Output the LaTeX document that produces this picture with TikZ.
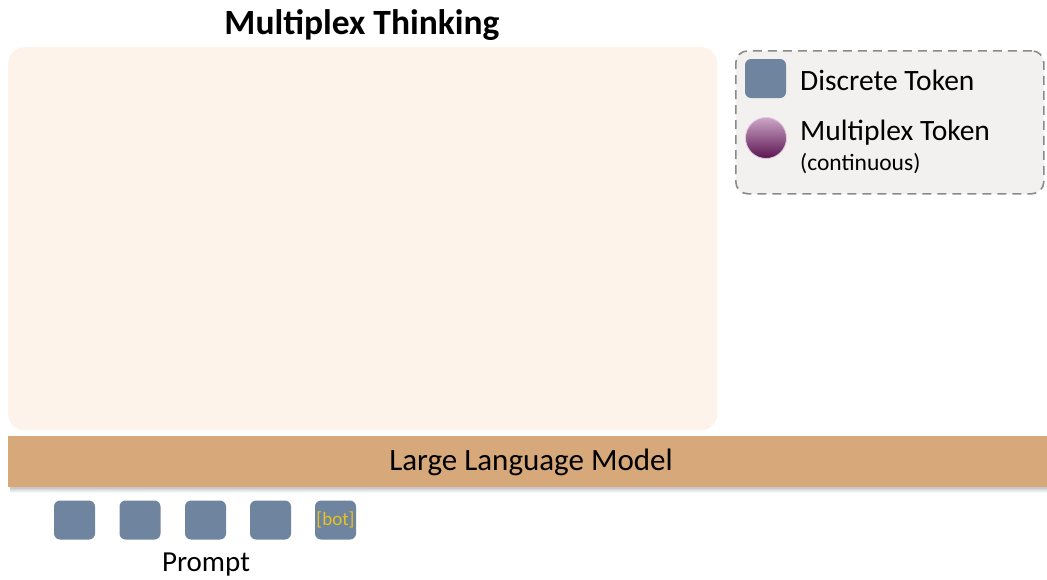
\documentclass[tikz,border=0pt]{standalone}
\usepackage{fontspec}
\setmainfont{Carlito}
\definecolor{panelfill}{HTML}{FDF3EB}
\definecolor{llmfill}{HTML}{D6A87A}
\definecolor{tokfill}{HTML}{6E849F}
\definecolor{botcol}{HTML}{E9C31E}
\definecolor{legfill}{HTML}{F3F0F0}
\definecolor{legdash}{HTML}{8A8A8A}
\definecolor{mtop}{HTML}{CDA6C8}
\definecolor{mbot}{HTML}{5A1450}
\definecolor{shadowcol}{HTML}{7A8088}
\tikzset{
  token/.style={rectangle, rounded corners=6pt, fill=tokfill, minimum width=41pt, minimum height=39pt, inner sep=0pt},
  lbl/.style={font=\fontsize{29.5}{34}\selectfont, inner sep=0pt},
}
\begin{document}
\begin{tikzpicture}[x=1pt,y=-1pt]
\useasboundingbox (0,0) rectangle (1047,579);
% thinking panel
\node[fill=panelfill, rounded corners=16pt, minimum width=709pt, minimum height=383pt, inner sep=0pt, anchor=north west] (panel) at (8,47) {};
\node[font=\bfseries\fontsize{35.5}{40}\selectfont, inner sep=0pt] (title) at (362,25) {Multiplex Thinking};
% soft shadow under the model bar
\foreach \d/\o in {6/0.06,5/0.08,4/0.10,3/0.12,2/0.14}
  \fill[shadowcol, opacity=\o] (10,436) rectangle (1047,487+\d);
% model bar
\node[fill=llmfill, minimum width=1045pt, minimum height=51pt, inner sep=0pt, anchor=north west] (llm) at (8,436) {};
\node[font=\fontsize{31}{36}\selectfont, inner sep=0pt] (llmtext) at (531,462) {Large Language Model};
% prompt tokens
\node[token] (t1) at (74.5,520) {};
\node[token] (t2) at (140,520) {};
\node[token] (t3) at (205.5,520) {};
\node[token] (t4) at (270.5,520) {};
\node[token, text=botcol, font=\fontsize{19}{22}\selectfont] (t5) at (335.5,520) {[bot]};
\node[font=\fontsize{29}{34}\selectfont, inner sep=0pt] (prompt) at (206,565) {Prompt};
% legend
\node[draw=legdash, dashed, dash pattern=on 9pt off 6pt, line width=1.6pt, fill=legfill, rounded corners=12pt,
      minimum width=308pt, minimum height=143pt, inner sep=0pt, anchor=north west] (legend) at (735,50) {};
\node[token] (ldisc) at (765.5,78.5) {};
\node[lbl, anchor=west] (ldisctext) at (800,80) {Discrete Token};
\node[circle, minimum size=41pt, inner sep=0pt, top color=mtop, bottom color=mbot, draw=mtop!60, line width=0.8pt] (lmulti) at (766,138) {};
\node[lbl, anchor=west] (lmultitext) at (800,133) {Multiplex Token};
\node[font=\fontsize{23.5}{27}\selectfont, inner sep=0pt, anchor=west] (lcont) at (800,164) {(continuous)};
\end{tikzpicture}
\end{document}
